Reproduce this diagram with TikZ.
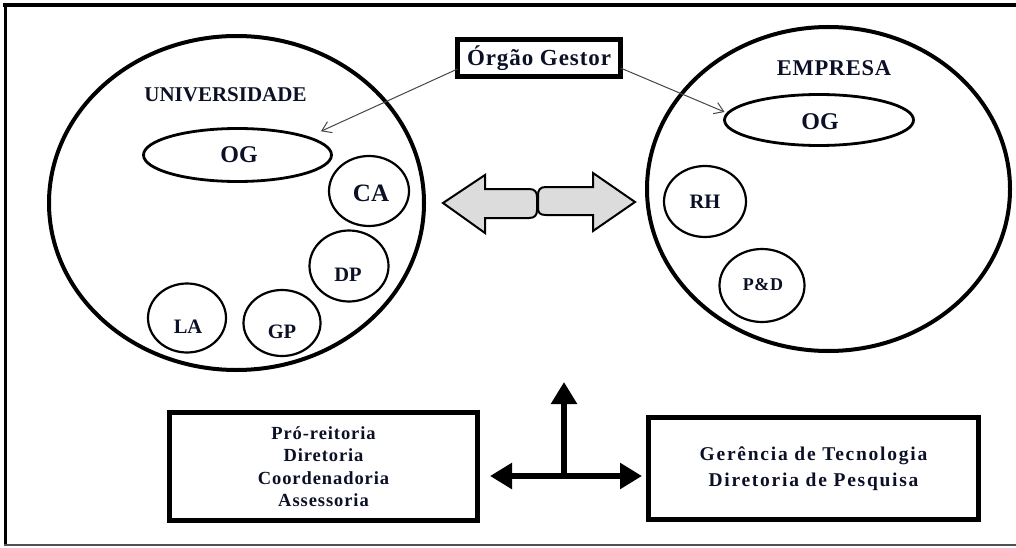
\documentclass[tikz,border=0pt]{standalone}
\usepackage{fontspec}
\setmainfont{Liberation Serif}
\usetikzlibrary{shapes.geometric,arrows.meta}
\definecolor{txt}{RGB}{12,16,38}
\definecolor{arrowfill}{RGB}{220,220,220}
\definecolor{thinline}{RGB}{70,70,70}
\definecolor{framegray}{RGB}{80,80,80}
\begin{document}
\begin{tikzpicture}[x=1pt,y=-1pt,
  big/.style={ellipse,draw,line width=4pt,inner sep=0pt,outer sep=0pt},
  ogell/.style={ellipse,draw,line width=2.8pt,inner sep=0pt,outer sep=0pt},
  unit/.style={ellipse,draw,line width=2.2pt,inner sep=0pt,outer sep=0pt},
  lbl/.style={text=txt,inner sep=0pt,outer sep=0pt,font=\fontsize{#1}{#1}\selectfont\bfseries},
  box/.style={rectangle,draw,line width=5pt,inner sep=0pt,outer sep=0pt,align=center,text=txt},
  pointer/.style={draw=thinline,line width=1pt,-{Straight Barb[length=9pt,width=12pt]}},
  blockarrow/.style={fill=arrowfill,draw=black,line width=2pt,line join=miter},
  heavy/.style={line width=6pt,-{Triangle[length=22pt,width=25pt]}}
]
\useasboundingbox (0,0) rectangle (1016,548);
% frame
\draw[line width=4pt] (3,5) -- (1016,5);
\draw[line width=3pt] (5,3) -- (5,545);
\draw[line width=2pt,framegray] (4,545) -- (1016,545);

% big ellipses
\node[big,minimum width=375pt,minimum height=334pt] (univ) at (236.5,203) {};
\node[big,minimum width=363pt,minimum height=324pt] (emp) at (828.5,189) {};

\node[lbl=21] (univlbl) at (225.5,95) {UNIVERSIDADE};
\node[lbl=22.5] (emplbl) at (834,68) {\addfontfeature{LetterSpace=3}EMPRESA};

% OG ellipses
\node[ogell,minimum width=188pt,minimum height=53pt] (ogL) at (237.5,155) {};
\node[lbl=24] (ogLt) at (239,155) {OG};
\node[ogell,minimum width=189pt,minimum height=51pt] (ogR) at (819,120) {};
\node[lbl=24] (ogRt) at (820,122) {OG};

% small units (universidade)
\node[unit,minimum width=80pt,minimum height=70pt] (ca) at (369,191) {};
\node[lbl=25] (cat) at (371,193) {CA};
\node[unit,minimum width=79pt,minimum height=71pt] (dp) at (349,266) {};
\node[lbl=20.5] (dpt) at (348,275) {DP};
\node[unit,minimum width=77pt,minimum height=66pt] (gp) at (282,323) {};
\node[lbl=20.5] (gpt) at (282,332) {GP};
\node[unit,minimum width=78pt,minimum height=69pt] (la) at (187,318) {};
\node[lbl=20.5] (lat) at (188,327) {LA};

% small units (empresa)
\node[unit,minimum width=82pt,minimum height=71pt] (rh) at (705,201.5) {};
\node[lbl=20.5] (rht) at (705,202) {RH};
\node[unit,minimum width=85pt,minimum height=73pt] (pd) at (762,285.5) {};
\node[lbl=18] (pdt) at (763,285) {\addfontfeature{LetterSpace=4}P\&D};

% Orgao Gestor
\node[box,minimum width=163pt,minimum height=37pt,font=\fontsize{23}{26}\selectfont\bfseries] (gestor) at (539,58)
  {\addfontfeature{LetterSpace=4}Órgão Gestor};
\draw[pointer] ([yshift=-11pt]gestor.west) -- ([xshift=17pt,yshift=5pt]ogL.north east);
\draw[pointer] ([yshift=-10pt]gestor.east) -- ([yshift=8pt]ogR.west);

% double block arrow
\filldraw[blockarrow] (443,203) -- (485,175) -- (485,189) -- (529,189)
  .. controls (535,189) and (537,192) .. (537,197) -- (537,210)
  .. controls (537,215) and (535,218) .. (529,218) -- (485,218) -- (485,233) -- cycle;
\filldraw[blockarrow] (635,202) -- (593,173) -- (593,187) -- (546,187)
  .. controls (540,187) and (538,190) .. (538,195) -- (538,208)
  .. controls (538,213) and (540,215) .. (546,215) -- (593,215) -- (593,231) -- cycle;

% bottom boxes
\node[box,minimum width=308pt,minimum height=108pt,font=\fontsize{18.5}{22.5}\selectfont\bfseries] (reit) at (323.5,466.5)
  {\addfontfeature{LetterSpace=5}Pró-reitoria\\\addfontfeature{LetterSpace=5}Diretoria\\\addfontfeature{LetterSpace=5}Coordenadoria\\\addfontfeature{LetterSpace=5}Assessoria};
\node[box,minimum width=330pt,minimum height=102pt,font=\fontsize{19.5}{26}\selectfont\bfseries] (ger) at (813.5,468.5)
  {\addfontfeature{LetterSpace=9}Gerência de Tecnologia\\\addfontfeature{LetterSpace=9}Diretoria de Pesquisa};

% cross arrow
\coordinate (cross) at (564,476);
\coordinate (uptip) at (564,382);
\draw[heavy,{Triangle[length=22pt,width=25pt]}-{Triangle[length=22pt,width=25pt]},shorten <=12.5pt,shorten >=6.5pt]
  (reit.east |- cross) -- (ger.west |- cross);
\draw[heavy] ([yshift=3pt]cross) -- (uptip);
\end{tikzpicture}
\end{document}
